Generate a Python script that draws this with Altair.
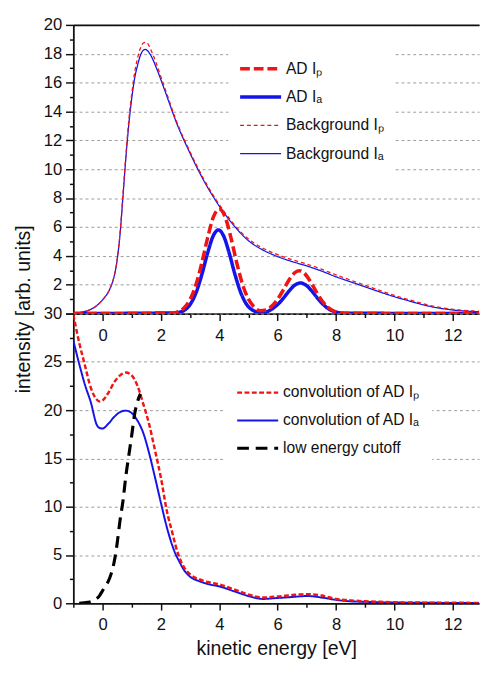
import altair as alt
import pandas as pd

# ---------------- data: upper panel (kinetic energy [eV] -> intensity) ----------------
BG_X = [-1.0, -0.7, -0.4, -0.2, 0.0, 0.2, 0.3, 0.4, 0.5, 0.6, 0.7, 0.8, 0.9, 1.0, 1.1, 1.2,
        1.3, 1.4, 1.47, 1.55, 1.65, 1.85, 2.0, 2.25, 2.5, 3.0, 3.5, 4.0, 4.5, 5.0, 5.5, 6.0,
        6.5, 7.0, 7.5, 8.0, 8.5, 9.0, 9.5, 10.0, 10.5, 11.0, 11.5, 12.0, 12.5, 13.0]
BG_IA = [0.03, 0.1, 0.3, 0.55, 0.95, 1.5, 1.95, 2.6, 3.7, 5.5, 8.1, 10.8, 13.1, 14.9, 16.3,
         17.2, 17.9, 18.25, 18.3, 18.2, 17.9, 17.0, 16.2, 14.8, 13.4, 11.1, 9.1, 7.45, 6.1,
         5.05, 4.4, 3.95, 3.6, 3.3, 2.95, 2.55, 2.2, 1.85, 1.5, 1.17, 0.88, 0.6, 0.39, 0.25,
         0.17, 0.12]
BG_IP = [0.03, 0.1, 0.3, 0.55, 0.95, 1.5, 1.95, 2.6, 3.7, 5.6, 8.3, 11.0, 13.4, 15.2, 16.7,
         17.7, 18.4, 18.75, 18.8, 18.7, 18.3, 17.3, 16.4, 14.95, 13.5, 11.2, 9.2, 7.55, 6.2,
         5.17, 4.53, 4.08, 3.73, 3.43, 3.08, 2.68, 2.32, 1.96, 1.6, 1.26, 0.96, 0.67, 0.45,
         0.3, 0.21, 0.15]

AD_IP_X = [-1.0, 2.4, 2.6, 2.8, 3.0, 3.2, 3.4, 3.6, 3.8, 4.0, 4.2, 4.4, 4.6, 4.8, 5.0, 5.2,
           5.4, 5.6, 5.8, 6.0, 6.2, 6.4, 6.6, 6.74, 6.9, 7.1, 7.3, 7.5, 7.7, 7.9, 8.1, 8.3, 13.0]
AD_IP_Y = [0.0, 0.03, 0.14, 0.41, 0.98, 2.0, 3.5, 5.25, 6.7, 7.25, 6.7, 5.25, 3.5, 2.0, 1.0,
           0.45, 0.2, 0.25, 0.52, 1.0, 1.66, 2.36, 2.85, 2.97, 2.82, 2.29, 1.59, 0.94, 0.47,
           0.2, 0.07, 0.02, 0.0]
AD_IA_X = [-1.0, 2.5, 2.8, 3.0, 3.2, 3.4, 3.6, 3.8, 3.97, 4.15, 4.35, 4.55, 4.75, 4.95, 5.15,
           5.35, 5.5, 5.65, 5.8, 6.0, 6.2, 6.4, 6.6, 6.78, 6.95, 7.15, 7.35, 7.55, 7.75, 7.95,
           8.2, 13.0]
AD_IA_Y = [0.0, 0.05, 0.23, 0.63, 1.43, 2.69, 4.2, 5.42, 5.8, 5.37, 4.12, 2.62, 1.38, 0.6,
           0.23, 0.1, 0.08, 0.14, 0.31, 0.63, 1.08, 1.59, 1.99, 2.12, 2.0, 1.61, 1.11, 0.65,
           0.32, 0.14, 0.03, 0.0]

# ---------------- data: lower panel ----------------
CONV_X = [-1.0, -0.8, -0.6, -0.4, -0.2, -0.1, 0.0, 0.2, 0.4, 0.6, 0.8, 1.0, 1.2, 1.4, 1.6,
          1.8, 2.0, 2.2, 2.4, 2.5, 2.6, 2.8, 3.0, 3.3, 3.6, 4.0, 4.5, 5.0, 5.5, 6.0, 6.5, 7.0,
          7.5, 8.0, 8.5, 9.0, 9.5, 10.0, 11.0, 12.0, 13.0]
CONV_IP = [29.9, 27.0, 24.6, 22.3, 21.1, 20.9, 21.0, 21.8, 22.9, 23.6, 23.9, 23.6, 22.5, 20.6,
           18.5, 15.8, 13.0, 9.6, 7.2, 6.0, 5.0, 3.7, 3.0, 2.5, 2.2, 1.95, 1.45, 0.9, 0.6, 0.7,
           0.85, 0.95, 0.8, 0.45, 0.3, 0.2, 0.15, 0.1, 0.07, 0.05, 0.04]
CONV_IA = [27.2, 24.8, 22.6, 20.8, 18.5, 18.15, 18.1, 18.6, 19.3, 19.8, 19.95, 19.7, 18.9,
           17.6, 15.5, 13.0, 10.4, 7.9, 5.9, 5.1, 4.5, 3.4, 2.75, 2.3, 2.0, 1.75, 1.25, 0.75,
           0.45, 0.55, 0.65, 0.75, 0.6, 0.35, 0.2, 0.15, 0.1, 0.08, 0.05, 0.04, 0.03]
CUT_X = [-0.8, -0.5, -0.3, -0.1, 0.0, 0.1, 0.2, 0.3, 0.4, 0.5, 0.6, 0.7, 0.8, 0.9, 1.0, 1.1,
         1.2, 1.3]
CUT_Y = [0.0, 0.1, 0.3, 0.8, 1.3, 1.8, 2.3, 3.1, 4.3, 6.2, 8.6, 10.6, 13.2, 15.3, 17.4, 19.6,
         20.9, 21.7]

TOP_LABELS = ["AD I\u209a", "AD I\u2090", "Background I\u209a", "Background I\u2090"]
BOT_LABELS = ["convolution of AD I\u209a", "convolution of AD I\u2090", "low energy cutoff"]

TOP_Y_TICKS = [0, 2, 4, 6, 8, 10, 12, 14, 16, 18, 20]
TOP_Y_MINOR = [1, 3, 5, 7, 9, 11, 13, 15, 17, 19]
BOT_Y_TICKS = [0, 5, 10, 15, 20, 25, 30]
BOT_Y_MINOR = [2.5, 7.5, 12.5, 17.5, 22.5, 27.5]
X_TICKS = [0, 2, 4, 6, 8, 10, 12]
X_MINOR = [-1, 1, 3, 5, 7, 9, 11]

# ---------------- styles ----------------
RED, BLUE, BLACK = "#f01414", "#1414e8", "#000000"
TOP_COLORS = [RED, BLUE, RED, BLUE]
TOP_DASH = [[10, 4], [1, 0], [4, 3], [1, 0]]
TOP_WIDTH = [3.6, 3.6, 1.3, 1.3]
BOT_COLORS = [RED, BLUE, BLACK]
BOT_DASH = [[5, 2.5], [1, 0], [12, 7]]
BOT_WIDTH = [2.5, 2.0, 3.2]

FONT = "Liberation Sans"
W = 416
H_TOP = 296
H_BOT = 297
X_DOMAIN = [-1, 12.9]


def frame(xs, ys, label):
    return pd.DataFrame({"x": xs, "y": ys, "s": label})


top_df = pd.concat([
    frame(BG_X, BG_IA, TOP_LABELS[3]),
    frame(BG_X, BG_IP, TOP_LABELS[2]),
    frame(AD_IA_X, AD_IA_Y, TOP_LABELS[1]),
    frame(AD_IP_X, AD_IP_Y, TOP_LABELS[0]),
])
bot_df = pd.concat([
    frame(CONV_X, CONV_IA, BOT_LABELS[1]),
    frame(CONV_X, CONV_IP, BOT_LABELS[0]),
    frame(CUT_X, CUT_Y, BOT_LABELS[2]),
])


def xscale():
    return alt.Scale(domain=X_DOMAIN, nice=False, zero=False)


def yscale(d):
    return alt.Scale(domain=d, nice=False, zero=False)


def make_legend(lx, ly, pad, rowpad):
    return alt.Legend(
        title=None, orient="none", legendX=lx, legendY=ly,
        symbolType="stroke", symbolSize=1764, clipHeight=18, rowPadding=rowpad,
        padding=pad, fillColor="white", labelFont=FONT, labelFontSize=16,
        labelColor="#111", labelOffset=3, labelLimit=400,
    )


def series_layers(df, labels, colors, dashes, widths, ydom, legend, order):
    layers = []
    for i in order:
        lab = labels[i]
        sub = df[df["s"] == lab]
        layers.append(
            alt.Chart(sub).mark_line(interpolate="monotone", clip=True).encode(
                x=alt.X("x:Q", scale=xscale(), axis=None),
                y=alt.Y("y:Q", scale=yscale(ydom), axis=None),
                color=alt.Color("s:N", scale=alt.Scale(domain=labels, range=colors),
                                legend=legend),
                strokeDash=alt.StrokeDash("s:N", scale=alt.Scale(domain=labels, range=dashes),
                                          legend=legend),
                strokeWidth=alt.StrokeWidth("s:N", scale=alt.Scale(type="ordinal",
                                                                   domain=labels,
                                                                   range=widths),
                                            legend=legend),
            )
        )
    return layers


def axis_layer(df, ydom, xaxis, yaxis):
    return alt.Chart(df).mark_line(opacity=0).encode(
        x=alt.X("x:Q", scale=xscale(), axis=xaxis),
        y=alt.Y("y:Q", scale=yscale(ydom), axis=yaxis),
    )


# ---------------- upper panel ----------------
TOP_DOM = [0, 20]
top_legend = make_legend(159, 26, 10, 11)
top_major = axis_layer(
    top_df, TOP_DOM,
    alt.Axis(orient="bottom", values=X_TICKS, tickSize=7, title=None, grid=False,
             labelPadding=8),
    alt.Axis(orient="left", values=TOP_Y_TICKS, tickSize=8, grid=True,
             labelExpr="datum.value == 0 ? '' : datum.label",
             title="intensity [arb. units]", titleX=-45, titleY=291, titleAngle=-90,
             titleAlign="center", titleBaseline="alphabetic"),
)
top_minor = axis_layer(
    top_df, TOP_DOM,
    alt.Axis(orient="bottom", values=X_MINOR, tickSize=4, labels=False, domain=False,
             grid=False, title=None),
    alt.Axis(orient="left", values=TOP_Y_MINOR, tickSize=4, labels=False, domain=False,
             grid=False, title=None),
)
top_border = axis_layer(
    top_df, TOP_DOM,
    alt.Axis(orient="top", ticks=False, labels=False, domain=True, grid=False, title=None),
    None,
)
top = alt.layer(
    top_major, top_minor, top_border,
    *series_layers(top_df, TOP_LABELS, TOP_COLORS, TOP_DASH, TOP_WIDTH, TOP_DOM,
                   top_legend, [3, 2, 1, 0]),
).resolve_axis(x="independent", y="independent").properties(width=W, height=H_TOP)

# ---------------- lower panel ----------------
BOT_DOM = [0, 30]
bot_legend = make_legend(154, 60, 12, 10.5)
bot_major = axis_layer(
    bot_df, BOT_DOM,
    alt.Axis(orient="bottom", values=X_TICKS, tickSize=7, grid=False, labelPadding=7,
             title="kinetic energy [eV]", titlePadding=7),
    alt.Axis(orient="left", values=BOT_Y_TICKS, tickSize=8, grid=True, title=None),
)
bot_minor = axis_layer(
    bot_df, BOT_DOM,
    alt.Axis(orient="bottom", values=X_MINOR, tickSize=4, labels=False, domain=False,
             grid=False, title=None),
    alt.Axis(orient="left", values=BOT_Y_MINOR, tickSize=4, labels=False, domain=False,
             grid=False, title=None),
)
bot = alt.layer(
    bot_major, bot_minor,
    *series_layers(bot_df, BOT_LABELS, BOT_COLORS, BOT_DASH, BOT_WIDTH, BOT_DOM,
                   bot_legend, [1, 0, 2]),
).resolve_axis(x="independent", y="independent").properties(width=W, height=H_BOT)

chart = alt.vconcat(top, bot, spacing=0, bounds="flush").resolve_scale(
    color="independent", strokeDash="independent", strokeWidth="independent"
).properties(
    padding={"left": 6, "top": 0, "right": 0, "bottom": 0}
).configure_view(stroke=None).configure_axis(
    labelFont=FONT, labelFontSize=17, labelColor="#111", labelPadding=4,
    labelFlush=False, labelOverlap=False,
    domainColor="#111", domainWidth=1.8, tickColor="#111", tickWidth=1.5,
    gridColor="#9a9a9a", gridDash=[3, 3], gridWidth=1, gridOpacity=1,
    titleFont=FONT, titleFontSize=20, titleFontWeight="normal", titleColor="#111",
)

chart.save("out.html", embed_options={"renderer": "svg", "actions": False})
